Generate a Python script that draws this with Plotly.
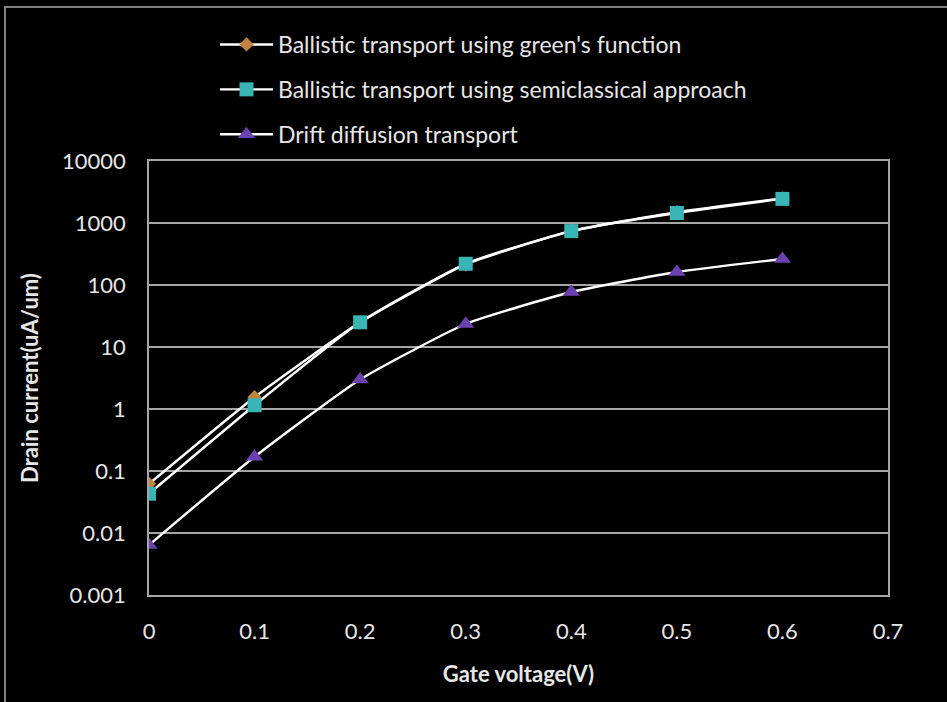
import plotly.graph_objects as go

gate_voltage = [0, 0.1, 0.2, 0.3, 0.4, 0.5, 0.6]
greens_function = [0.062, 1.55, 25, 215, 740, 1500, 2500]
semiclassical = [0.043, 1.15, 25, 220, 740, 1450, 2450]
drift_diffusion = [0.0064, 0.17, 3.0, 23.5, 77, 162, 263]

y_tick_vals = [0.001, 0.01, 0.1, 1, 10, 100, 1000, 10000]
y_tick_text = ["0.001", "0.01", "0.1", "1", "10", "100", "1000", "10000"]
x_tick_vals = [0, 0.1, 0.2, 0.3, 0.4, 0.5, 0.6, 0.7]
x_tick_text = ["0", "0.1", "0.2", "0.3", "0.4", "0.5", "0.6", "0.7"]

names = ["Ballistic transport using green's function",
         "Ballistic transport using semiclassical approach",
         "Drift diffusion transport"]

FONT = "Lato"
W, H = 947, 702
L, R, T, B = 149, 59, 161, 107
PW, PH = W - L - R, H - T - B

def px(x):
    return (x - L) / PW

def py(y):
    return (H - B - y) / PH

fig = go.Figure()
series = [
    (greens_function, "diamond", "#c0843f", 11),
    (semiclassical, "square", "#3ab5b5", 14),
    (drift_diffusion, "triangle-up", "#6a42b0", 15),
]
for i, (vals, sym, col, sz) in enumerate(series):
    fig.add_trace(go.Scatter(
        x=gate_voltage, y=vals, mode="lines+markers", name=names[i],
        legendgroup=str(i),
        line=dict(color="white", width=2.4, shape="spline", smoothing=0.5),
        marker=dict(symbol=sym, color=col, size=sz, line=dict(width=0)),
    ))

fig.update_layout(
    width=W, height=H,
    margin=dict(l=L, r=R, t=T, b=B),
    paper_bgcolor="black", plot_bgcolor="black",
    font=dict(family=FONT, color="#e6e6e6", size=22),
    showlegend=True,
    legend=dict(x=px(215), y=py(23), xanchor="left", yanchor="top",
                bgcolor="rgba(0,0,0,0)", font=dict(size=23, color="#e6e6e6"),
                tracegroupgap=12, itemwidth=53),
    xaxis=dict(range=[0, 0.7], tickvals=x_tick_vals, ticktext=x_tick_text,
               showgrid=False, zeroline=False, showline=True, linecolor="#a6a6a6",
               linewidth=1.5, mirror=True, ticks="", ticklabelstandoff=16,
               tickfont=dict(size=22),
               title=dict(text="<b>Gate voltage(V)</b>", font=dict(size=22), standoff=23)),
    yaxis=dict(type="log", range=[-3, 4], tickvals=y_tick_vals, ticktext=y_tick_text,
               showgrid=True, gridcolor="#a6a6a6", gridwidth=1.5, zeroline=False,
               showline=True, linecolor="#a6a6a6", linewidth=1.5, mirror=True,
               ticks="", ticklabelstandoff=17, tickfont=dict(size=22),
               title=dict(text="<b>Drain current(uA/um)</b>", font=dict(size=22), standoff=17)),
)

fig.add_shape(type="rect", xref="paper", yref="paper",
              x0=px(5), x1=px(960), y0=py(715), y1=py(7),
              line=dict(color="#808080", width=2), fillcolor="rgba(0,0,0,0)", layer="below")

fig.write_html("out.html")
